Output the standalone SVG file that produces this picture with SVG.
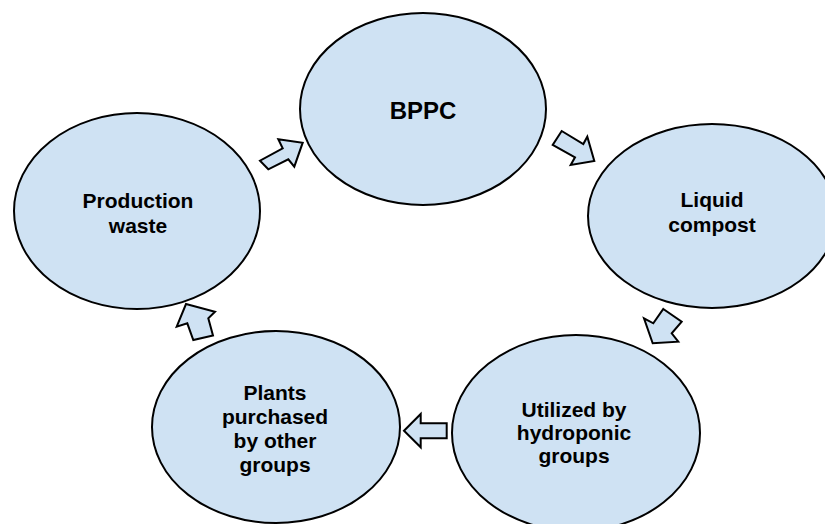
<svg xmlns="http://www.w3.org/2000/svg" width="825" height="524" viewBox="0 0 825 524">
<style>
.node{fill:#cfe2f3;stroke:#000;stroke-width:2}
.arrow{fill:#cfe2f3;stroke:#000;stroke-width:2;stroke-linejoin:miter}
.label{font-family:"Liberation Sans",Arial,sans-serif;font-weight:bold;font-size:21px;fill:#000;text-anchor:middle}
</style>
<rect width="825" height="524" fill="#fff"/>
<g id="connectors">
<polygon class="arrow" points="278.3,139.3 302.7,142.7 294.3,166.7 288.3,159.3 268.3,169.3 260,160.7 282.7,148.3"/>
<polygon class="arrow" points="561.7,131 583.3,144 587.3,136.7 594.3,161 570.7,165 575,157.3 552.7,145"/>
<polygon class="arrow" points="663.3,309 681.7,321.7 671.7,333.3 678.3,341.7 652.7,343.3 644,318.3 653.3,323.3"/>
<polygon class="arrow" points="404,430.7 420.7,414 420.7,423.3 446.7,423.3 446.7,438.3 420.7,438.3 420.7,447.3"/>
<polygon class="arrow" points="186,304 215,311.7 208.3,318.3 213,335.5 193.3,340 187.3,323.3 176.7,326.7"/>
</g>
<g id="bppc">
<ellipse class="node" cx="423" cy="109" rx="123" ry="96"/>
<text class="label" x="423" y="119" style="font-size:24px">BPPC</text>
</g>
<g id="liquid-compost">
<ellipse class="node" cx="712" cy="216" rx="124" ry="92"/>
<text class="label" x="712" y="207">Liquid</text>
<text class="label" x="712" y="232">compost</text>
</g>
<g id="utilized">
<ellipse class="node" cx="576" cy="433" rx="124" ry="98"/>
<text class="label" x="574" y="417">Utilized by</text>
<text class="label" x="574" y="440">hydroponic</text>
<text class="label" x="574" y="463">groups</text>
</g>
<g id="plants">
<ellipse class="node" cx="276" cy="427" rx="124" ry="96"/>
<text class="label" x="275" y="400">Plants</text>
<text class="label" x="275" y="424">purchased</text>
<text class="label" x="275" y="448">by other</text>
<text class="label" x="275" y="472">groups</text>
</g>
<g id="production-waste">
<ellipse class="node" cx="137" cy="211" rx="123" ry="98"/>
<text class="label" x="138" y="208">Production</text>
<text class="label" x="138" y="233">waste</text>
</g>
</svg>
